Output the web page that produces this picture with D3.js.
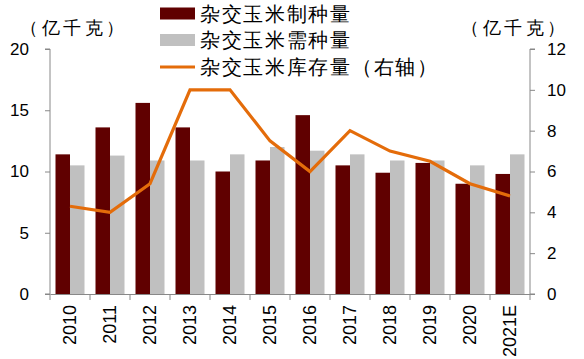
<!DOCTYPE html>
<html><head><meta charset="utf-8">
<script src="https://cdn.jsdelivr.net/npm/d3@7"></script>
<style>body{margin:0;background:#fff}svg{display:block}text{font-family:Arial,"Liberation Sans",sans-serif}</style>
</head><body><svg id="c" width="584" height="359"></svg>
<script>
const categories = ["2010","2011","2012","2013","2014","2015","2016","2017","2018","2019","2020","2021E"];
const production = [11.4,13.6,15.6,13.6,10.0,10.9,14.6,10.5,9.9,10.7,9.0,9.8];
const demand = [10.5,11.3,10.9,10.9,11.4,12.0,11.7,11.4,10.9,10.9,10.5,11.4];
const stock = [4.3,4.0,5.4,10.0,10.0,7.5,6.0,8.0,7.0,6.5,5.4,4.8];
const leftTicks = [0,5,10,15,20];
const rightTicks = [0,2,4,6,8,10,12];
const seriesNames = ["杂交玉米制种量","杂交玉米需种量","杂交玉米库存量（右轴）"];
const unitLabel = "（亿千克）";

const svg = d3.select("#c");
const L = 50, R = 530, T = 49, B = 294;
const cjk = '"Noto Sans CJK SC",sans-serif';
const x = d3.scaleBand().domain(categories).range([L, R]);
const x1 = d3.scaleBand().domain([0,1]).range([0, 29]);
const yL = d3.scaleLinear().domain([0,20]).range([B, T]);
const yR = d3.scaleLinear().domain([0,12]).range([B, T]);
const cDark = "#600000", cGray = "#c0c0c0", cOr = "#e46c0a", cAx = "#888";

// bars
const g = svg.append("g");
g.selectAll(".p").data(production).enter().append("rect")
  .attr("x",(d,i)=>x(categories[i])+5.5+x1(0)).attr("width",x1.bandwidth())
  .attr("y",d=>yL(d)).attr("height",d=>B-yL(d)).attr("fill",cDark);
g.selectAll(".d").data(demand).enter().append("rect")
  .attr("x",(d,i)=>x(categories[i])+5.5+x1(1)).attr("width",x1.bandwidth())
  .attr("y",d=>yL(d)).attr("height",d=>B-yL(d)).attr("fill",cGray);

// line
const line = d3.line().x((d,i)=>x(categories[i])+x.bandwidth()/2).y(d=>yR(d));
svg.append("path").datum(stock).attr("d",line).attr("fill","none")
  .attr("stroke",cOr).attr("stroke-width",3.2).attr("stroke-linejoin","miter");

// axes
const axL = svg.append("g").attr("transform",`translate(${L},0)`)
  .call(d3.axisLeft(yL).tickValues(leftTicks).tickSize(5).tickPadding(16));
const axR = svg.append("g").attr("transform",`translate(${R},0)`)
  .call(d3.axisRight(yR).tickValues(rightTicks).tickSize(5).tickPadding(12));
const axB = svg.append("g").attr("transform",`translate(0,${B})`)
  .call(d3.axisBottom(x).tickSize(0).tickPadding(0));
[axL,axR,axB].forEach(a=>{
  a.select(".domain").attr("stroke",cAx);
  a.selectAll(".tick line").attr("stroke",cAx);
  a.selectAll("text").attr("font-size",17).attr("fill","#000").attr("font-family","Arial,'Liberation Sans',sans-serif");
});
axL.select(".domain").attr("d",`M-5,${T}H0V${B}H-5`);
axR.select(".domain").attr("d",`M5,${T}H0V${B}H5`);
// bottom separators
axB.selectAll(".sep").data(d3.range(categories.length+1)).enter().append("line")
  .attr("x1",i=>L+i*x.step()).attr("x2",i=>L+i*x.step()).attr("y1",0).attr("y2",6).attr("stroke",cAx);
axB.selectAll(".tick text").attr("transform","rotate(-90)").attr("text-anchor","end")
  .attr("x",-11).attr("y",0).attr("dy","0.35em").attr("font-size",18);

// unit labels
svg.append("text").attr("x",20).attr("y",28).attr("dy","0.36em")
  .attr("font-size",18).attr("letter-spacing",3.5).attr("font-family",cjk).text(unitLabel);
svg.append("text").attr("x",461).attr("y",28).attr("dy","0.36em")
  .attr("font-size",18).attr("letter-spacing",3.5).attr("font-family",cjk).text(unitLabel);

// legend
const lg = svg.append("g");
const rows = [13.5,40,67];
lg.append("rect").attr("x",160).attr("y",rows[0]-6).attr("width",35).attr("height",12).attr("fill",cDark);
lg.append("rect").attr("x",160).attr("y",rows[1]-6).attr("width",35).attr("height",12).attr("fill",cGray);
lg.append("line").attr("x1",160).attr("x2",195).attr("y1",rows[2]).attr("y2",rows[2]).attr("stroke",cOr).attr("stroke-width",3);
lg.selectAll("text.l").data(seriesNames).enter().append("text")
  .attr("x",200).attr("y",(d,i)=>rows[i]).attr("dy","0.36em")
  .attr("font-size",20).attr("letter-spacing",1.7).attr("font-family",cjk).text(d=>d);
</script></body></html>
